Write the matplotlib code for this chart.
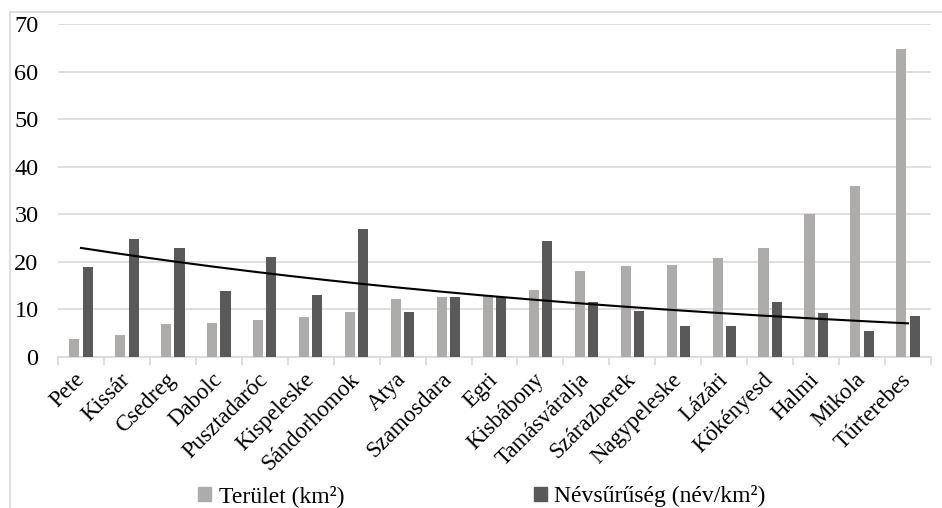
import numpy as np
import matplotlib.pyplot as plt
from matplotlib.patches import Patch
from matplotlib.lines import Line2D

# Data
telepulesek = ['Pete', 'Kissár', 'Csedreg', 'Dabolc', 'Pusztadaróc', 'Kispeleske',
               'Sándorhomok', 'Atya', 'Szamosdara', 'Egri', 'Kisbábony', 'Tamásváralja',
               'Szárazberek', 'Nagypeleske', 'Lázári', 'Kökényesd', 'Halmi', 'Mikola',
               'Túrterebes']
terulet = [3.8, 4.7, 6.9, 7.1, 7.7, 8.4, 9.5, 12.2, 12.6, 13.1, 14.1, 18.0,
           19.1, 19.3, 20.9, 23.0, 30.1, 36.0, 64.8]
nevsuruseg = [19.0, 24.9, 22.9, 13.8, 21.1, 13.0, 27.0, 9.5, 12.7, 12.7, 24.5, 11.6,
              9.6, 6.5, 6.6, 11.5, 9.3, 5.5, 8.6]

plt.rcParams['font.family'] = ['Liberation Serif', 'DejaVu Serif']

light = '#AEABAB'
dark = '#595959'
grid_c = '#D9D9D9'

fig = plt.figure(figsize=(9.42, 5.08), dpi=100)
ax = fig.add_axes([58/942, 1 - 357/508, (931-58)/942, (357-24.3)/508])

x = np.arange(len(telepulesek))
w = 0.22
ax.bar(x - 0.145, terulet, width=w, color=light, label='Terület (km²)', zorder=3)
ax.bar(x + 0.145, nevsuruseg, width=w, color=dark, label='Névsűrűség (név/km²)', zorder=3)

# exponential trendline (like Excel) on the density series
b, a = np.polyfit(x + 1, np.log(nevsuruseg), 1)
xs = np.linspace(0, len(x) - 1, 200)
ax.plot(xs, np.exp(a) * np.exp(b * (xs + 1)), color='black', lw=1.5, zorder=4)

ax.set_xlim(-0.5, len(x) - 0.5)
ax.set_ylim(0, 70)
ax.set_yticks(range(0, 71, 10))
ax.yaxis.grid(True, color=grid_c, lw=1.2, zorder=0)
ax.tick_params(axis='y', length=0, pad=14, labelsize=17.5)

ax.set_xticks(x)
ax.set_xticklabels(telepulesek, rotation=45, rotation_mode='anchor',
                   ha='right', va='center', fontsize=16.5)
ax.tick_params(axis='x', length=0, pad=14)
ax.set_xticks(np.arange(-0.5, len(x), 1), minor=True)
ax.tick_params(axis='x', which='minor', length=6, color=grid_c, width=1.2)

for s in ['top', 'right', 'left']:
    ax.spines[s].set_visible(False)
ax.spines['bottom'].set_color(grid_c)
ax.spines['bottom'].set_linewidth(1.2)

handles = [Patch(color=light), Patch(color=dark)]
fig.legend(handles, ['Terület (km²)', 'Névsűrűség (név/km²)'], ncol=2,
           loc='center', bbox_to_anchor=(482/942, 1 - 496/508), frameon=False,
           fontsize=17, handlelength=0.55, handleheight=0.55, handletextpad=0.3,
           columnspacing=8.05, borderpad=0)

# chart area border (cropped at right and bottom)
fig.add_artist(Line2D([10/942, 10/942], [0, 1 - 12/508], color=grid_c, lw=1.2))
fig.add_artist(Line2D([10/942, 1], [1 - 12/508, 1 - 12/508], color=grid_c, lw=1.2))

fig.savefig('out.png', dpi=100)
